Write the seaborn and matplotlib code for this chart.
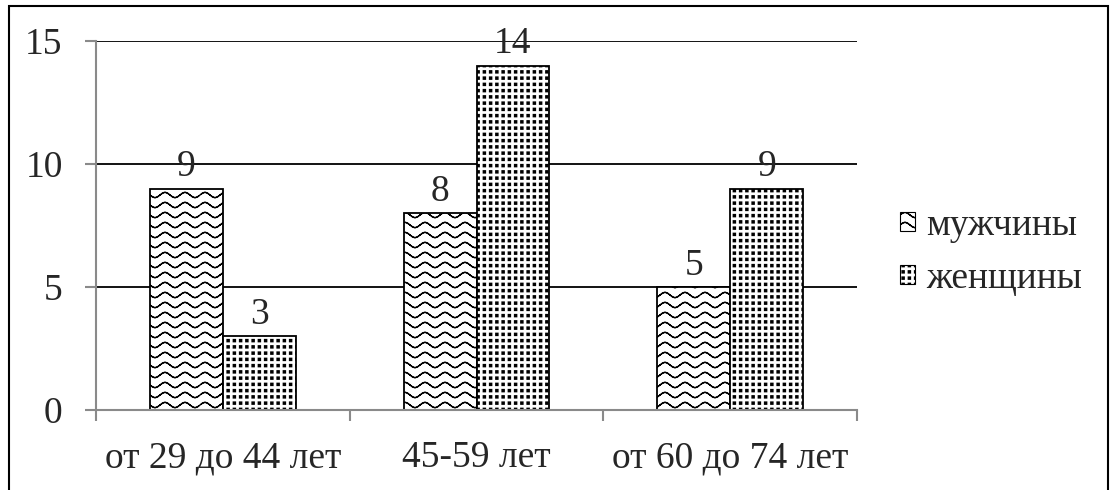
import warnings
warnings.filterwarnings('ignore')
import numpy as np
import pandas as pd
import matplotlib
matplotlib.use('Agg')
import matplotlib.pyplot as plt
from matplotlib import hatch as mhatch
from matplotlib.path import Path
from matplotlib.patches import Rectangle, Patch
import seaborn as sns

# ---- data ----
categories = ['от 29 до 44 лет', '45-59 лет', 'от 60 до 74 лет']
series_names = ['мужчины', 'женщины']
men = [9, 8, 5]
women = [3, 14, 9]
y_ticks = [0, 5, 10, 15]


# ---- custom hatch patterns (wave and dense square grid) ----
class WaveHatch(mhatch.HatchPatternBase):
    ROWS = 10
    PERIODS = 5
    SEG = 12
    AMP = 0.026

    def __init__(self, hatch, density):
        self.n = hatch.count('~')
        nseg = self.PERIODS * self.SEG
        self.num_vertices = self.ROWS * nseg * 2 if self.n else 0

    def set_vertices_and_codes(self, vertices, codes):
        nseg = self.PERIODS * self.SEG
        x = np.linspace(0, 1, nseg + 1)
        k = 0
        for r in range(self.ROWS):
            y0 = (r + 0.5) / self.ROWS
            y = y0 + self.AMP * np.sin(2 * np.pi * self.PERIODS * x)
            for i in range(nseg):
                vertices[k] = (x[i], y[i])
                codes[k] = Path.MOVETO
                vertices[k + 1] = (x[i + 1], y[i + 1])
                codes[k + 1] = Path.LINETO
                k += 2


class SquareGridHatch(mhatch.HatchPatternBase):
    CELLS = 16
    HALF = 0.0105

    def __init__(self, hatch, density):
        self.n = hatch.count('#')
        self.num_vertices = (self.CELLS ** 2) * 5 if self.n else 0

    def set_vertices_and_codes(self, vertices, codes):
        c = 1.0 / self.CELLS
        h = self.HALF
        k = 0
        for i in range(self.CELLS):
            for j in range(self.CELLS):
                cx, cy = (i + 0.5) * c, (j + 0.5) * c
                vertices[k:k + 5] = [(cx - h, cy - h), (cx + h, cy - h),
                                     (cx + h, cy + h), (cx - h, cy + h),
                                     (cx - h, cy - h)]
                codes[k:k + 5] = [Path.MOVETO, Path.LINETO, Path.LINETO,
                                  Path.LINETO, Path.CLOSEPOLY]
                k += 5


mhatch._hatch_types.append(WaveHatch)
mhatch._hatch_types.append(SquareGridHatch)
hatches = {'мужчины': '~', 'женщины': '#'}

# ---- style ----
sns.set_style('white')
plt.rcParams['font.family'] = ['Liberation Serif', 'DejaVu Serif']
plt.rcParams['hatch.linewidth'] = 1.0
FS = 27

df = pd.DataFrame({
    'group': categories * 2,
    'sex': [series_names[0]] * 3 + [series_names[1]] * 3,
    'value': men + women,
})

fig = plt.figure(figsize=(11.11, 4.90), dpi=100)
ax = fig.add_axes([96 / 1111, 1 - 410 / 490, (857 - 96) / 1111, (410 - 41) / 490])

sns.barplot(data=df, x='group', y='value', hue='sex', order=categories,
            hue_order=series_names, palette=['white', 'white'],
            edgecolor='black', linewidth=1.3, width=0.575, gap=0,
            ax=ax, legend=False)

for cont, name in zip(ax.containers, series_names):
    for bar in cont:
        bar.set_hatch(hatches[name])
        bar.set_edgecolor('black')
    ax.bar_label(cont, labels=[f'{int(v)}' for v in cont.datavalues],
                 padding=3, fontsize=FS)

ax.set_xlim(-0.5, 2.5)
ax.set_ylim(0, 15)
ax.set_yticks(y_ticks)
ax.set_xlabel('')
ax.set_ylabel('')
ax.set_axisbelow(True)
ax.yaxis.grid(True, color='black', lw=1.3)
ax.xaxis.grid(False)

for s in ['top', 'right']:
    ax.spines[s].set_visible(False)
for s in ['left', 'bottom']:
    ax.spines[s].set_color('#8a8a8a')
    ax.spines[s].set_linewidth(1.5)

ax.tick_params(axis='y', which='major', length=8, width=1.5, color='#8a8a8a',
               direction='out', pad=16, labelsize=FS, left=True)
ax.tick_params(axis='x', which='major', length=0, pad=22, labelsize=FS, bottom=True)
ax.set_xticks([-0.5, 0.5, 1.5, 2.5], minor=True)
ax.tick_params(axis='x', which='minor', length=8, width=1.5, color='#8a8a8a',
               direction='out', bottom=True)

handles = [Patch(facecolor='white', edgecolor='black', hatch=hatches[n], lw=0.8)
           for n in series_names]
fig.legend(handles, series_names, loc='center left',
           bbox_to_anchor=(900 / 1111, 1 - 252 / 490), frameon=False,
           fontsize=FS, handlelength=0.4, handleheight=0.4, handletextpad=0.3,
           labelspacing=0.5, borderpad=0, borderaxespad=0)

fig.add_artist(Rectangle((9 / 1111, -0.1), (1108 - 9) / 1111, 1.1 - 6 / 490,
                         transform=fig.transFigure, fill=False,
                         edgecolor='black', lw=1.5, clip_on=False))

fig.savefig('out.png', dpi=100)
